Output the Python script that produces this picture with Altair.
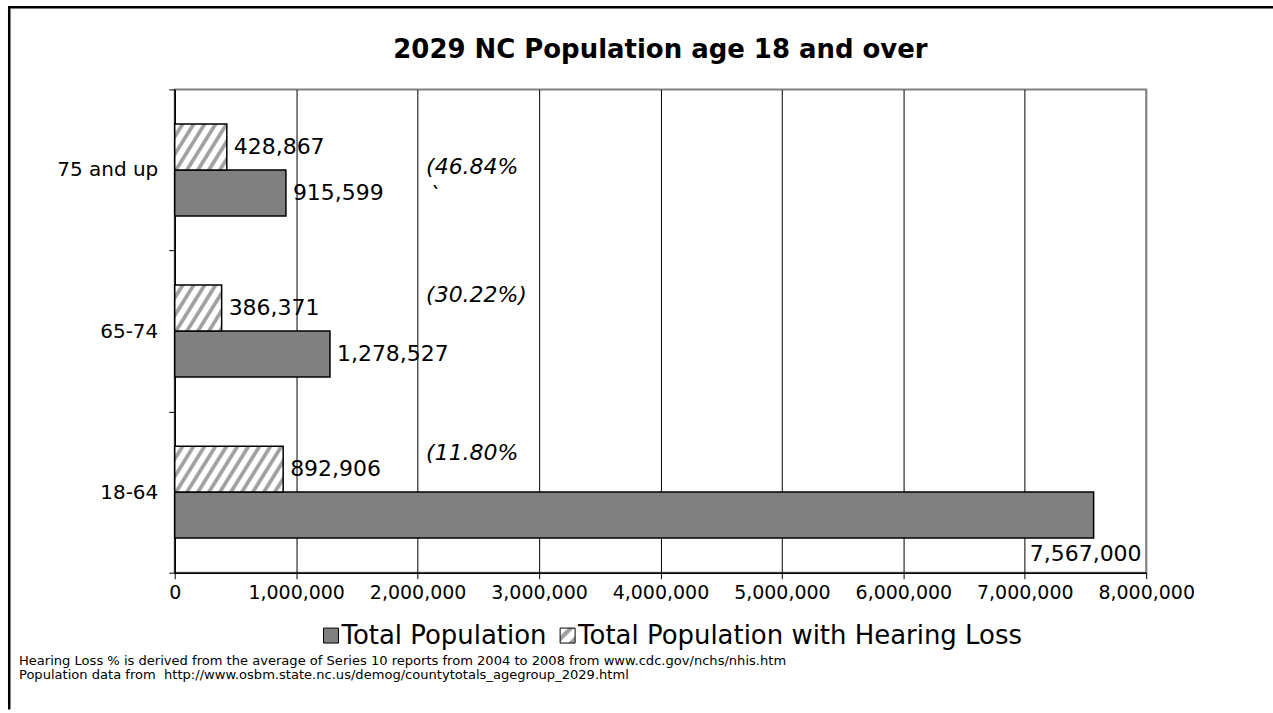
import math

import altair as alt
import pandas as pd

# ---- data -----------------------------------------------------------------
categories = ["75 and up", "65-74", "18-64"]
total_population = [915599, 1278527, 7567000]
hearing_loss = [428867, 386371, 892906]
pct_close = ["", ")", ""]          # closing parenthesis as printed on each ratio label
x_ticks = [0, 1000000, 2000000, 3000000, 4000000, 5000000, 6000000, 7000000, 8000000]
series_names = ["Total Population", "Total Population with Hearing Loss"]
chart_title = "2029 NC Population age 18 and over"
footnotes = [
    "Hearing Loss % is derived from the average of Series 10 reports from 2004 to 2008 from www.cdc.gov/nchs/nhis.htm",
    "Population data from \u00a0http://www.osbm.state.nc.us/demog/countytotals_agegroup_2029.html",
]

TOTAL, HEAR = series_names

# ---- layout / style constants ---------------------------------------------
PLOT_W, PLOT_H = 973, 484
X_MAX = 8000000
BAND = PLOT_H / len(categories)
SUB_BAND = 46
SUB_PAD = (BAND / SUB_BAND - 2) / 2
FONT = "DejaVu Sans"
BAR_GRAY = "#808080"
HATCH_GRAY = "#a0a0a0"
HATCH_ANGLE = math.radians(58)
HATCH_PERIOD = 11.0
PCT_LABEL_X = 2070000
PCT_DY = [20, -13, -16]

rows = []
for c, t, h in zip(categories, total_population, hearing_loss):
    rows.append({"category": c, "series": TOTAL, "value": t})
    rows.append({"category": c, "series": HEAR, "value": h})
df = pd.DataFrame(rows)

pct_df = pd.DataFrame({
    "category": categories,
    "series": [HEAR] * len(categories),
    "label": ["({:.2f}%{}".format(100 * h / t, p)
              for h, t, p in zip(hearing_loss, total_population, pct_close)],
})

x_enc = alt.X(
    "value:Q",
    scale=alt.Scale(domain=[0, X_MAX], nice=False, zero=True),
    axis=alt.Axis(
        values=x_ticks, format=",d", title=None,
        labelFont=FONT, labelFontSize=19, labelColor="black", labelPadding=5,
        labelOverlap=False, labelFlush=False,
        tickSize=6, tickColor="black", tickWidth=1,
        domainColor="black", domainWidth=1.5,
        grid=True, gridWidth=1,
        gridColor={"condition": {"test": "datum.value >= 8000000", "value": BAR_GRAY},
                   "value": "#000000"},
    ),
)
y_enc = alt.Y(
    "category:N",
    sort=categories,
    scale=alt.Scale(domain=categories, paddingInner=0, paddingOuter=0),
    axis=alt.Axis(
        title=None, labelFont=FONT, labelFontSize=20, labelColor="black",
        labelPadding=11, tickBand="extent", tickSize=6, tickColor="black",
        tickWidth=1, domainColor="black", domainWidth=1.5, grid=False,
    ),
)
yoff_enc = alt.YOffset(
    "series:N",
    scale=alt.Scale(domain=[HEAR, TOTAL], paddingInner=0, paddingOuter=SUB_PAD),
)

base = alt.Chart(df).encode(x=x_enc, y=y_enc, yOffset=yoff_enc)


def stripe_gradient(w, h, angle, period):
    """Diagonal stripes as a hard-stop linear gradient in a w x h bounding box."""
    b = h / math.tan(angle) / w
    p = (1 + b) / (1 + b * b)
    q = b * p
    dt = period / ((1 + b) * w)
    pattern = [(0.45, "white"), (0.6, HATCH_GRAY), (0.85, HATCH_GRAY), (1.0, "white")]
    stops = [alt.GradientStop(offset=0, color="white")]
    k = 0
    while k * dt < 1:
        for frac, col in pattern:
            off = (k + frac) * dt
            if off <= 1:
                stops.append(alt.GradientStop(offset=round(off, 5), color=col))
        k += 1
    return alt.LinearGradient(gradient="linear", stops=stops, x1=0, y1=0, x2=p, y2=q)


def hatch_fill(value):
    return stripe_gradient(value / X_MAX * PLOT_W, SUB_BAND, HATCH_ANGLE, HATCH_PERIOD)


solid_bars = base.transform_filter(
    alt.datum.series == TOTAL
).mark_bar(fill=BAR_GRAY, stroke="black", strokeWidth=1.5)

hatched_bars = [
    base.transform_filter(
        (alt.datum.series == HEAR) & (alt.datum.category == c)
    ).mark_bar(fill=hatch_fill(v), stroke="black", strokeWidth=1.5)
    for c, v in zip(categories, hearing_loss)
]

value_text = dict(font=FONT, fontSize=22, color="black", baseline="middle")
fits_outside = alt.datum.value < 0.85 * X_MAX

outside_labels = base.transform_filter(fits_outside).mark_text(
    align="left", dx=7, **value_text
).encode(text=alt.Text("value:Q", format=",d"))

inside_labels = base.transform_filter(~fits_outside).mark_text(
    align="right", dx=48, dy=39, **value_text
).encode(text=alt.Text("value:Q", format=",d"))

pct_layers = []
for c, dy in zip(categories, PCT_DY):
    pct_layers.append(
        alt.Chart(pct_df).transform_filter(alt.datum.category == c).mark_text(
            align="left", baseline="middle", dy=dy, font=FONT, fontSize=22,
            fontStyle="italic", color="black",
        ).encode(
            x=alt.datum(PCT_LABEL_X, type="quantitative"),
            y=alt.Y("category:N", sort=categories),
            yOffset=alt.YOffset("series:N"),
            text="label:N",
        )
    )

tick_mark = alt.Chart(pct_df).transform_filter(
    alt.datum.category == categories[0]
).mark_text(
    text="`", align="left", baseline="middle", dx=3, dy=48,
    font=FONT, fontSize=22, fontStyle="italic", color="black",
).encode(
    x=alt.datum(PCT_LABEL_X, type="quantitative"),
    y=alt.Y("category:N", sort=categories),
    yOffset=alt.YOffset("series:N"),
)

one = pd.DataFrame({"k": [0]})

# chart title, centred over the plot area
title_mark = alt.Chart(one).mark_text(
    text=chart_title, align="center", baseline="middle", font=FONT,
    fontSize=26, fontWeight="bold", color="black",
).encode(x=alt.value(PLOT_W / 2), y=alt.value(-39))

# legend row below the axis: swatch + label for each series
SWATCH = 15
LEG_Y = 547
legend_items = [
    (series_names[0], 149, BAR_GRAY),
    (series_names[1], 386, stripe_gradient(SWATCH, SWATCH, math.radians(45), SWATCH)),
]
legend_layers = []
for name, x0, fill in legend_items:
    legend_layers.append(
        alt.Chart(one).mark_rect(fill=fill, stroke="black", strokeWidth=1).encode(
            x=alt.value(x0), x2=alt.value(x0 + SWATCH),
            y=alt.value(LEG_Y - SWATCH / 2), y2=alt.value(LEG_Y + SWATCH / 2),
        )
    )
    legend_layers.append(
        alt.Chart(one).mark_text(
            text=name, align="left", baseline="middle", font=FONT, fontSize=26,
            color="black",
        ).encode(x=alt.value(x0 + SWATCH + 3), y=alt.value(LEG_Y))
    )

# outer frame: left and top edges only, drawn as thin filled strips
FRAME_L, FRAME_T, FRAME_W = -167, -83.5, 2.5
frame_top = alt.Chart(one).mark_rect(fill="black", strokeWidth=0).encode(
    x=alt.value(FRAME_L), x2=alt.value(1100),
    y=alt.value(FRAME_T), y2=alt.value(FRAME_T + FRAME_W),
)
frame_left = alt.Chart(one).mark_rect(fill="black", strokeWidth=0).encode(
    x=alt.value(FRAME_L), x2=alt.value(FRAME_L + FRAME_W),
    y=alt.value(FRAME_T), y2=alt.value(621),
)
notes = alt.Chart(one).mark_text(
    text=footnotes, align="left", baseline="top", font=FONT, fontSize=13.1,
    lineHeight=15, color="black",
).encode(x=alt.value(-156), y=alt.value(566))

chart = alt.layer(
    frame_top, frame_left, title_mark,
    solid_bars, *hatched_bars,
    outside_labels, inside_labels, *pct_layers, tick_mark,
    *legend_layers, notes,
).properties(
    width=PLOT_W, height=PLOT_H,
    padding={"left": 8, "top": 5, "right": 0, "bottom": 0},
    background="white",
).configure_view(
    stroke=BAR_GRAY, strokeWidth=2,
)

chart.save("out.html", embed_options={"renderer": "svg", "actions": False})
